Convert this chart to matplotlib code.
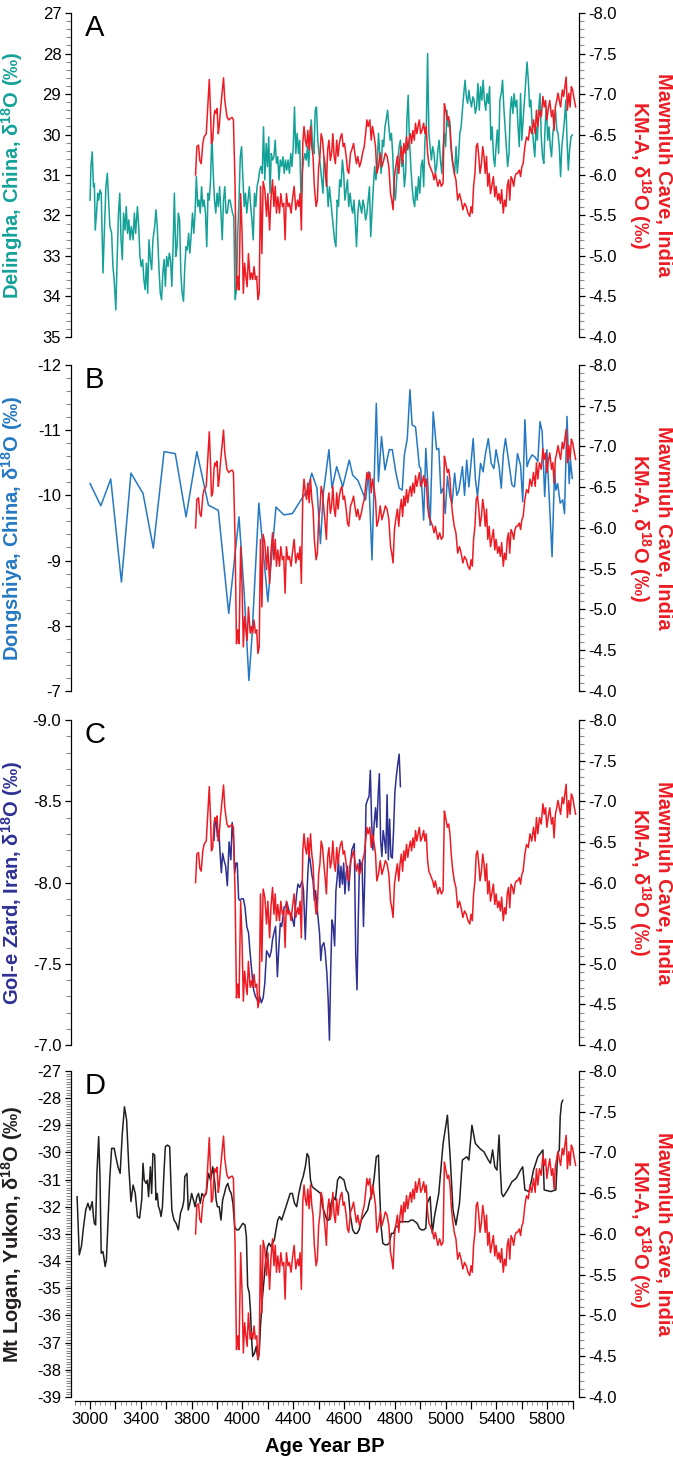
import numpy as np
import matplotlib
matplotlib.use("Agg")
import matplotlib.pyplot as plt
from matplotlib.ticker import MultipleLocator, FixedLocator, FixedFormatter, FormatStrFormatter

plt.rcParams['font.family'] = ['Liberation Sans', 'DejaVu Sans']
plt.rcParams['axes.unicode_minus'] = False
plt.rcParams['mathtext.fontset'] = 'custom'
plt.rcParams['mathtext.rm'] = 'Liberation Sans'
plt.rcParams['mathtext.bf'] = 'Liberation Sans:bold'

# ---------------- data (age axis in years, labels as printed on the figure) ----------------
age_tick_labels = ['3000', '3400', '3800', '4000', '4400', '4600', '4800', '5000', '5400', '5800']

# Mawmluh Cave KM-A (same record in all panels)
mawmluh_age = [3831, 3841, 3854, 3864, 3875, 3888, 3898, 3915, 3932, 3939, 3949, 3956, 3966, 3976, 3983,
               3993, 4000, 4010, 4017, 4027, 4037, 4051, 4061, 4078, 4092, 4105, 4119, 4129, 4142, 4153,
               4163, 4173, 4186, 4197, 4207, 4217, 4227, 4237, 4247, 4261, 4271, 4281, 4291, 4302, 4312,
               4322, 4332, 4342, 4353, 4363, 4376, 4390, 4400, 4414, 4424, 4437, 4448, 4458, 4468, 4478,
               4492, 4502, 4515, 4525, 4536, 4546, 4559, 4570, 4583, 4593, 4607, 4620, 4634, 4644, 4654,
               4664, 4675, 4685, 4695, 4705, 4715, 4725, 4736, 4746, 4756, 4766, 4780, 4790, 4800, 4810,
               4820, 4831, 4841, 4851, 4861, 4871, 4881, 4892, 4902, 4912, 4922, 4932, 4942, 4953, 4963,
               4973, 4983, 4993, 5003, 5017, 5027, 5037, 5051, 5061, 5075, 5085, 5098, 5108, 5122, 5136,
               5146, 5159, 5170, 5180, 5190, 5203, 5214, 5224, 5234, 5248, 5258, 5271, 5285, 5298, 5312,
               5325, 5339, 5353, 5366, 5376, 5386, 5397, 5407, 5420, 5431, 5441, 5451, 5461, 5471, 5481,
               5492, 5502, 5512, 5522, 5532, 5542, 5553, 5563, 5573, 5583, 5593, 5603, 5614, 5627, 5637,
               5647, 5658, 5668, 5678, 5688, 5698, 5709, 5719, 5729, 5739, 5753, 5766, 5780, 5790, 5800,
               5814, 5824, 5834, 5844, 5854, 5868, 5881, 5895, 5909, 5922, 5936, 5949, 5963, 5976, 5990,
               6000, 6010, 6020, 6031, 6041, 6051, 6061, 6071, 6082, 6092, 6102, 6112, 6122, 6132, 6143,
               6153, 6163, 6176, 6187, 6197, 6210, 6220, 6231, 6241, 6254, 6264, 6275, 6285, 6295, 6305,
               6315, 6326, 6336, 6346, 6356, 6366, 6380, 6390, 6400, 6410, 6424, 6437, 6451, 6464, 6478,
               6492, 6505, 6515, 6526, 6539, 6553, 6566, 6576, 6587, 6597, 6607, 6620, 6634, 6644, 6654,
               6664, 6675, 6685, 6695, 6705, 6719, 6729, 6739, 6749, 6759, 6770, 6780, 6790, 6800, 6814,
               6824]
mawmluh_d18o = [-6.00, -6.35, -6.37, -6.18, -6.14, -6.39, -6.47, -6.51, -6.97, -7.18, -6.76, -6.39, -6.43, -6.72, -6.80,
                -6.76, -6.82, -6.51, -6.60, -6.80, -6.97, -7.20, -6.92, -6.72, -6.68, -6.70, -6.71, -6.68, -5.86, -4.58,
                -4.75, -4.58, -5.77, -5.28, -4.54, -4.91, -4.75, -4.62, -5.03, -4.71, -4.79, -4.71, -4.87, -4.71, -4.75,
                -4.46, -4.54, -5.86, -5.03, -5.92, -5.82, -5.49, -5.77, -5.32, -5.69, -5.94, -5.61, -5.86, -5.53, -5.73,
                -5.53, -5.77, -5.61, -5.65, -5.20, -5.77, -5.61, -5.65, -5.53, -5.69, -5.86, -5.57, -5.69, -5.61, -5.77,
                -5.32, -6.39, -6.60, -6.43, -6.35, -6.55, -6.31, -6.60, -6.35, -6.23, -5.86, -5.61, -5.69, -6.10, -6.23,
                -6.51, -6.43, -6.23, -6.06, -5.86, -6.31, -6.43, -6.18, -6.27, -6.51, -6.23, -6.14, -6.43, -6.23, -6.39,
                -6.47, -6.51, -6.35, -6.39, -6.23, -6.06, -6.02, -6.27, -6.31, -6.39, -6.27, -6.14, -6.23, -6.10, -6.18,
                -6.27, -6.35, -6.51, -6.68, -6.60, -6.68, -6.43, -6.60, -6.51, -6.35, -6.02, -6.10, -6.27, -6.10, -6.18,
                -6.27, -6.23, -6.10, -5.77, -5.69, -5.57, -5.98, -6.10, -6.23, -6.02, -6.23, -6.35, -6.14, -6.39, -6.27,
                -6.47, -6.31, -6.43, -6.51, -6.39, -6.55, -6.43, -6.64, -6.51, -6.60, -6.68, -6.51, -6.55, -6.64, -6.51,
                -6.60, -6.27, -6.14, -6.10, -6.06, -6.02, -5.94, -6.02, -5.94, -5.86, -5.94, -5.86, -5.90, -6.88, -6.80,
                -6.68, -6.72, -6.60, -6.35, -6.18, -6.02, -5.94, -5.69, -5.77, -5.69, -5.57, -5.65, -5.61, -5.53, -5.49,
                -5.61, -5.53, -5.86, -6.02, -6.35, -6.39, -6.23, -6.02, -6.14, -6.35, -6.23, -6.02, -6.23, -5.86, -6.02,
                -5.77, -5.86, -5.98, -5.73, -5.86, -5.69, -5.77, -5.65, -5.82, -5.53, -5.69, -5.61, -5.86, -5.94, -5.69,
                -5.98, -5.94, -5.86, -5.98, -6.02, -6.02, -6.06, -5.98, -6.10, -6.14, -6.35, -6.47, -6.43, -6.60, -6.51,
                -6.68, -6.51, -6.80, -6.60, -6.80, -6.72, -6.97, -6.84, -6.92, -6.68, -6.80, -6.92, -6.72, -6.80, -6.55,
                -6.84, -6.92, -7.01, -6.92, -6.84, -7.05, -6.97, -7.09, -7.21, -6.80, -7.01, -6.84, -7.09, -7.05, -6.92,
                -6.84]

# Delingha, China
delingha_age = [3000, 3007, 3017, 3027, 3034, 3041, 3051, 3061, 3068, 3078, 3088, 3102, 3112, 3125, 3136,
                3146, 3156, 3170, 3180, 3190, 3203, 3214, 3224, 3234, 3244, 3254, 3264, 3275, 3285, 3295,
                3305, 3315, 3325, 3339, 3349, 3359, 3373, 3383, 3393, 3403, 3414, 3424, 3434, 3444, 3454,
                3464, 3475, 3485, 3495, 3509, 3519, 3529, 3542, 3553, 3563, 3573, 3583, 3593, 3603, 3614,
                3624, 3634, 3644, 3654, 3664, 3675, 3685, 3695, 3705, 3715, 3725, 3736, 3746, 3756, 3766,
                3776, 3786, 3797, 3807, 3817, 3827, 3837, 3848, 3858, 3868, 3878, 3888, 3898, 3909, 3919,
                3929, 3939, 3949, 3959, 3970, 3980, 3990, 4000, 4010, 4020, 4031, 4041, 4051, 4061, 4071,
                4081, 4092, 4102, 4112, 4122, 4132, 4142, 4153, 4163, 4173, 4183, 4193, 4204, 4214, 4224,
                4234, 4244, 4254, 4265, 4275, 4285, 4295, 4305, 4315, 4326, 4336, 4346, 4356, 4366, 4376,
                4387, 4397, 4407, 4417, 4427, 4437, 4448, 4458, 4468, 4478, 4488, 4498, 4509, 4519, 4529,
                4539, 4549, 4559, 4570, 4580, 4590, 4600, 4610, 4620, 4631, 4641, 4651, 4661, 4671, 4681,
                4692, 4702, 4712, 4722, 4732, 4742, 4753, 4763, 4773, 4783, 4793, 4803, 4814, 4824, 4834,
                4844, 4854, 4864, 4875, 4885, 4895, 4905, 4915, 4925, 4936, 4946, 4956, 4966, 4976, 4987,
                4997, 5007, 5017, 5027, 5037, 5048, 5058, 5068, 5078, 5088, 5098, 5109, 5119, 5129, 5139,
                5149, 5159, 5170, 5180, 5190, 5200, 5210, 5220, 5231, 5241, 5251, 5261, 5271, 5281, 5292,
                5302, 5312, 5322, 5332, 5343, 5353, 5363, 5373, 5383, 5393, 5404, 5414, 5424, 5434, 5444,
                5454, 5465, 5475, 5485, 5495, 5505, 5515, 5526, 5536, 5546, 5556, 5566, 5576, 5587, 5597,
                5607, 5617, 5627, 5637, 5648, 5658, 5668, 5678, 5688, 5698, 5709, 5719, 5729, 5739, 5749,
                5759, 5770, 5780, 5790, 5800, 5810, 5820, 5831, 5841, 5851, 5861, 5871, 5882, 5892, 5902,
                5912, 5922, 5932, 5943, 5953, 5963, 5973, 5983, 5993, 6004, 6014, 6024, 6034, 6044, 6054,
                6065, 6075, 6085, 6095, 6105, 6116, 6126, 6136, 6146, 6156, 6166, 6177, 6187, 6197, 6207,
                6217, 6227, 6238, 6248, 6258, 6268, 6278, 6288, 6299, 6309, 6319, 6329, 6339, 6349, 6360,
                6370, 6380, 6390, 6400, 6410, 6421, 6431, 6441, 6451, 6461, 6471, 6482, 6492, 6502, 6512,
                6522, 6532, 6543, 6553, 6563, 6573, 6583, 6593, 6604, 6614, 6624, 6634, 6644, 6654, 6665,
                6675, 6685, 6695, 6705, 6715, 6726, 6736, 6746, 6756, 6766, 6776, 6787, 6797]
delingha_d18o = [31.62, 30.79, 30.43, 31.29, 31.21, 32.36, 31.94, 31.45, 31.62, 31.37, 31.45, 33.42, 32.44, 31.29, 30.96,
                 31.62, 32.27, 32.44, 33.26, 33.59, 34.33, 33.01, 31.94, 31.45, 32.60, 33.09, 31.94, 32.36, 31.78, 32.44,
                 32.11, 32.60, 32.27, 32.60, 31.94, 32.44, 31.78, 32.27, 33.01, 33.26, 33.09, 33.59, 33.83, 33.18, 33.92,
                 32.60, 33.09, 33.34, 32.60, 32.27, 31.86, 32.27, 33.26, 33.92, 34.08, 33.42, 33.09, 33.75, 33.01, 33.26,
                 32.93, 33.09, 33.75, 32.77, 31.45, 33.01, 32.77, 31.94, 32.11, 33.42, 33.92, 34.12, 33.26, 32.77, 32.85,
                 32.44, 32.93, 32.44, 31.94, 32.44, 31.94, 31.04, 31.78, 31.62, 31.94, 31.29, 31.78, 31.62, 31.94, 32.77,
                 31.45, 31.62, 31.12, 29.97, 30.96, 31.62, 31.94, 31.45, 31.78, 31.29, 31.94, 32.60, 31.62, 31.29, 31.94,
                 31.94, 31.62, 31.62, 31.78, 31.94, 32.03, 34.08, 33.83, 32.44, 31.62, 30.55, 30.30, 31.12, 31.78, 31.45,
                 31.94, 31.62, 31.29, 31.78, 32.11, 32.60, 31.45, 31.78, 31.29, 31.12, 30.88, 30.79, 30.96, 29.81, 31.12,
                 30.22, 30.79, 30.06, 31.45, 30.47, 30.63, 30.55, 30.14, 30.71, 30.55, 31.12, 30.63, 30.79, 30.55, 30.96,
                 30.63, 30.88, 30.63, 30.96, 30.47, 30.79, 30.30, 29.32, 30.47, 29.97, 30.47, 30.14, 31.62, 30.96, 30.63,
                 30.47, 30.63, 30.30, 30.79, 30.14, 29.64, 30.30, 30.47, 29.40, 29.32, 30.14, 30.47, 30.79, 31.12, 31.45,
                 30.55, 30.79, 31.12, 31.78, 31.29, 31.62, 31.94, 32.27, 32.60, 32.77, 31.62, 31.78, 31.12, 31.29, 30.63,
                 30.96, 31.62, 31.37, 31.12, 31.78, 31.45, 31.78, 31.94, 31.62, 32.11, 32.77, 31.94, 31.62, 31.78, 31.94,
                 31.62, 31.78, 32.11, 31.94, 31.62, 31.29, 32.52, 31.94, 31.29, 30.79, 31.12, 30.79, 29.97, 30.47, 30.96,
                 30.14, 30.30, 29.81, 29.64, 29.40, 29.81, 30.14, 29.97, 30.47, 31.29, 31.62, 31.12, 30.63, 30.30, 30.14,
                 30.79, 30.63, 31.29, 30.96, 29.64, 29.03, 30.14, 30.79, 31.29, 31.62, 31.78, 31.29, 31.62, 31.04, 31.45,
                 30.79, 30.63, 31.29, 30.14, 29.81, 28.00, 29.97, 30.30, 30.63, 30.30, 30.47, 30.96, 30.79, 30.38, 30.14,
                 30.63, 30.96, 30.30, 29.97, 30.30, 29.40, 29.81, 29.64, 30.30, 30.63, 30.79, 30.96, 30.30, 30.96, 30.55,
                 29.97, 29.81, 29.40, 28.99, 28.66, 29.07, 29.23, 28.91, 29.15, 29.32, 29.07, 29.15, 29.48, 29.32, 28.74,
                 29.40, 28.82, 29.15, 28.66, 29.15, 29.40, 28.99, 29.23, 28.82, 30.14, 29.81, 30.55, 30.79, 30.30, 29.89,
                 30.47, 29.15, 28.99, 28.66, 29.32, 29.81, 30.30, 30.79, 30.47, 29.40, 29.07, 29.48, 28.99, 29.32, 29.15,
                 29.81, 30.30, 28.99, 30.14, 29.64, 29.15, 28.66, 28.21, 28.66, 29.32, 29.15, 29.81, 30.22, 30.55, 29.81,
                 30.14, 29.40, 28.99, 30.06, 30.55, 30.71, 29.81, 29.32, 30.14, 29.81, 30.30, 30.55, 29.97, 29.73, 29.40,
                 29.89, 29.97, 30.30, 31.04, 30.30, 29.97, 29.64, 29.15, 30.14, 30.88, 30.38, 30.06, 30.01]

# Dongshiya, China
dongshiya_age = [3000, 3085, 3163, 3247, 3322, 3417, 3498, 3583, 3671, 3756, 3841, 3932, 4010, 4092, 4173,
                 4214, 4251, 4275, 4329, 4400, 4464, 4526, 4593, 4661, 4712, 4746, 4787, 4814, 4837, 4881,
                 4905, 4942, 4990, 5041, 5068, 5109, 5170, 5193, 5220, 5254, 5271, 5295, 5322, 5356, 5380,
                 5407, 5434, 5458, 5475, 5498, 5519, 5536, 5563, 5593, 5604, 5627, 5644, 5678, 5702, 5729,
                 5746, 5763, 5780, 5797, 5814, 5834, 5851, 5871, 5888, 5905, 5932, 5949, 5966, 5983, 6017,
                 6034, 6051, 6075, 6095, 6112, 6136, 6159, 6180, 6197, 6221, 6238, 6254, 6271, 6288, 6322,
                 6342, 6366, 6390, 6407, 6424, 6441, 6458, 6481, 6502, 6526, 6543, 6560, 6580, 6597, 6614,
                 6638, 6658, 6668, 6682, 6702, 6722, 6736, 6756, 6773, 6783, 6797]
dongshiya_d18o = [-10.18, -9.84, -10.25, -8.67, -10.34, -10.03, -9.19, -10.67, -10.64, -9.67, -10.67, -9.85, -9.77, -8.19, -9.67,
                  -8.49, -7.16, -7.83, -9.88, -8.37, -9.82, -9.70, -9.72, -9.93, -10.08, -10.34, -10.11, -9.26, -10.03, -10.70,
                  -10.11, -10.44, -10.13, -10.54, -10.31, -10.23, -9.93, -10.36, -9.01, -11.41, -10.21, -10.90, -10.39, -10.70, -10.70,
                  -10.36, -10.11, -10.08, -10.62, -10.87, -11.62, -11.08, -11.05, -10.44, -10.41, -9.62, -10.72, -9.54, -11.28, -10.70,
                  -10.72, -10.03, -10.11, -9.72, -10.29, -9.98, -9.88, -10.34, -10.00, -10.08, -10.44, -10.00, -10.54, -10.13, -10.87,
                  -10.26, -9.98, -10.49, -10.36, -10.62, -10.87, -10.49, -10.41, -10.70, -10.44, -10.11, -10.62, -10.87, -10.64, -10.16,
                  -10.13, -10.64, -10.46, -9.90, -11.16, -10.44, -10.54, -10.62, -10.59, -10.52, -11.13, -10.98, -9.98, -10.70, -10.03,
                  -9.06, -10.39, -10.08, -10.18, -9.88, -9.93, -9.72, -11.21, -10.18, -10.54, -10.26]

# Gol-e Zard, Iran
golezard_age = [3976, 3983, 3993, 4003, 4014, 4024, 4034, 4044, 4054, 4068, 4081, 4095, 4109, 4119, 4129,
                4139, 4149, 4159, 4170, 4180, 4193, 4207, 4220, 4234, 4248, 4261, 4275, 4288, 4302, 4315,
                4325, 4336, 4349, 4363, 4376, 4390, 4403, 4414, 4427, 4437, 4448, 4461, 4475, 4485, 4498,
                4509, 4519, 4529, 4539, 4549, 4559, 4570, 4580, 4593, 4607, 4617, 4627, 4637, 4651, 4661,
                4671, 4681, 4695, 4705, 4715, 4725, 4736, 4746, 4756, 4766, 4776, 4787, 4797, 4807, 4817,
                4827, 4841, 4851, 4865, 4875, 4885, 4895, 4905, 4915, 4926, 4936, 4946, 4956, 4966, 4976,
                4987, 4997, 5007, 5017, 5027, 5037, 5048, 5061, 5071, 5081, 5092, 5102, 5112, 5122, 5132,
                5142, 5153, 5163, 5173, 5186, 5197, 5207, 5217, 5227, 5237, 5248, 5258, 5268, 5278, 5288,
                5298, 5308, 5319, 5329, 5339, 5349, 5359, 5369, 5380, 5390, 5400, 5410, 5420, 5434, 5444]
golezard_d18o = [-8.26, -8.36, -8.38, -8.28, -8.32, -8.18, -8.06, -8.18, -8.14, -8.10, -7.98, -8.25, -8.14, -8.37, -8.28,
                 -8.06, -8.12, -8.12, -7.90, -7.89, -7.90, -7.90, -7.85, -7.73, -7.69, -7.56, -7.44, -7.34, -7.30, -7.28,
                 -7.26, -7.30, -7.26, -7.29, -7.38, -7.58, -7.56, -7.54, -7.58, -7.65, -7.69, -7.73, -7.42, -7.58, -7.75,
                 -7.73, -7.79, -7.85, -7.85, -7.88, -7.85, -7.81, -7.81, -7.78, -7.73, -7.85, -7.93, -7.99, -7.97, -7.99,
                 -8.01, -7.95, -7.65, -7.87, -8.06, -8.18, -8.12, -8.05, -8.01, -7.89, -7.95, -7.85, -7.77, -7.69, -7.52,
                 -7.61, -7.63, -7.58, -7.44, -7.28, -7.03, -7.46, -7.77, -7.73, -7.61, -7.95, -8.03, -8.14, -7.97, -8.10,
                 -7.99, -8.12, -7.93, -8.06, -8.10, -7.95, -8.08, -8.20, -8.22, -8.24, -7.56, -7.34, -7.77, -8.14, -8.08,
                 -8.12, -7.73, -8.03, -8.48, -8.51, -8.53, -8.69, -8.38, -8.20, -8.36, -8.46, -8.34, -8.53, -8.67, -8.26,
                 -8.16, -8.32, -8.26, -8.18, -8.54, -8.14, -8.39, -8.16, -8.15, -8.32, -8.55, -8.64, -8.71, -8.79, -8.59]

# Mt Logan, Yukon
logan_age = [2898, 2915, 2932, 2949, 2966, 2983, 3000, 3017, 3027, 3034, 3044, 3054, 3068, 3078, 3088,
             3102, 3119, 3129, 3142, 3156, 3170, 3190, 3203, 3220, 3237, 3254, 3271, 3288, 3305, 3322,
             3339, 3356, 3373, 3390, 3407, 3417, 3427, 3441, 3451, 3461, 3475, 3485, 3495, 3509, 3519,
             3529, 3539, 3549, 3559, 3570, 3583, 3593, 3610, 3627, 3644, 3661, 3678, 3695, 3712, 3729,
             3739, 3746, 3763, 3773, 3786, 3800, 3814, 3827, 3841, 3854, 3868, 3881, 3898, 3915, 3932,
             3949, 3966, 3983, 3993, 4003, 4017, 4031, 4044, 4058, 4071, 4085, 4098, 4112, 4125, 4139,
             4153, 4170, 4187, 4203, 4220, 4231, 4241, 4254, 4264, 4271, 4281, 4295, 4309, 4322, 4332,
             4342, 4356, 4370, 4383, 4397, 4410, 4424, 4437, 4451, 4464, 4478, 4492, 4509, 4526, 4542,
             4559, 4576, 4593, 4610, 4627, 4644, 4661, 4678, 4695, 4709, 4722, 4736, 4749, 4763, 4780,
             4797, 4814, 4831, 4848, 4865, 4881, 4898, 4915, 4932, 4949, 4966, 4983, 5000, 5017, 5034,
             5051, 5068, 5085, 5102, 5119, 5136, 5153, 5170, 5186, 5203, 5220, 5237, 5254, 5271, 5281,
             5292, 5305, 5322, 5339, 5356, 5373, 5390, 5407, 5424, 5441, 5458, 5475, 5492, 5509, 5526,
             5543, 5560, 5576, 5593, 5610, 5627, 5644, 5654, 5678, 5695, 5712, 5746, 5780, 5814, 5837,
             5858, 5881, 5909, 5932, 5966, 5983, 6007, 6034, 6068, 6102, 6136, 6153, 6170, 6187, 6204,
             6221, 6231, 6241, 6254, 6288, 6322, 6356, 6390, 6407, 6424, 6458, 6492, 6526, 6566, 6576,
             6627, 6668, 6682, 6695, 6702, 6712, 6722]
logan_d18o = [-31.63, -33.77, -33.46, -32.73, -32.12, -31.87, -32.12, -31.81, -32.36, -32.61, -32.67, -30.77, -29.42, -30.89, -33.71,
              -33.65, -34.20, -33.95, -32.49, -30.89, -29.85, -29.85, -30.16, -30.53, -30.77, -29.30, -28.32, -28.81, -30.53, -31.81,
              -31.20, -31.51, -32.36, -32.42, -31.75, -30.40, -31.02, -31.14, -31.02, -31.63, -30.53, -31.51, -30.04, -30.10, -31.75,
              -31.51, -32.00, -32.12, -32.36, -32.00, -30.65, -29.79, -29.73, -29.79, -32.12, -32.49, -32.61, -32.85, -32.24, -32.00,
              -31.75, -30.89, -30.77, -32.12, -31.87, -31.51, -31.75, -32.00, -31.63, -31.51, -31.87, -31.51, -31.63, -31.51, -30.77,
              -31.02, -30.53, -31.14, -31.75, -32.00, -32.00, -32.49, -31.75, -31.51, -31.26, -31.14, -31.38, -31.51, -31.87, -32.73,
              -32.85, -32.85, -32.73, -32.61, -32.67, -33.10, -34.93, -35.18, -35.91, -36.77, -37.51, -37.38, -37.14, -37.63, -37.38,
              -36.40, -35.42, -34.69, -33.95, -33.47, -33.34, -33.47, -33.34, -33.22, -32.85, -32.49, -32.36, -32.49, -32.24, -32.00,
              -31.75, -31.51, -31.51, -31.87, -32.00, -31.51, -31.14, -30.89, -30.53, -30.04, -30.16, -31.02, -31.26, -31.32, -31.38,
              -31.44, -31.51, -32.00, -32.24, -32.49, -32.49, -31.87, -31.63, -31.75, -31.02, -30.89, -30.95, -31.02, -31.38, -31.51,
              -32.36, -32.85, -32.98, -32.98, -32.85, -32.49, -32.36, -32.24, -32.12, -31.75, -31.51, -30.95, -30.16, -30.10, -31.51,
              -32.73, -33.34, -33.40, -33.40, -33.34, -32.98, -32.98, -32.73, -32.73, -32.55, -32.55, -32.55, -32.55, -32.55, -32.49,
              -32.49, -32.55, -32.61, -32.79, -32.85, -32.85, -32.79, -31.88, -31.63, -32.98, -32.36, -31.51, -29.67, -28.63, -30.28,
              -32.12, -32.67, -31.87, -30.28, -30.16, -30.28, -29.00, -29.67, -29.85, -29.98, -30.28, -30.40, -29.91, -30.53, -30.65,
              -29.36, -30.65, -31.51, -31.63, -31.38, -31.08, -30.95, -30.65, -30.53, -31.38, -31.44, -30.65, -30.16, -29.91, -31.38,
              -31.44, -31.38, -30.04, -29.91, -28.69, -28.20, -28.08]

# ---------------- figure ----------------
red = '#ed1c24'
panels = [
    # letter, age, values, color, label, ylim (bottom, top), major, minor, fmt, axes rect
    ('A', delingha_age, delingha_d18o, '#13a198', 'Delingha, China, ', (35, 27), 1, 0.2, '%d',
     [0.1055, 0.7695, 0.7548, 0.2216]),
    ('B', dongshiya_age, dongshiya_d18o, '#2479c2', 'Dongshiya, China, ', (-7, -12), 1, 0.2, '%d',
     [0.1055, 0.5274, 0.7548, 0.2230]),
    ('C', golezard_age, golezard_d18o, '#2e3192', 'Gol-e Zard, Iran, ', (-7.0, -9.0), 0.5, 0.1, '%.1f',
     [0.1055, 0.2852, 0.7548, 0.2223]),
    ('D', logan_age, logan_d18o, '#231f20', 'Mt Logan, Yukon, ', (-39, -27), 1, 0.1, '%d',
     [0.1055, 0.0445, 0.7548, 0.2230]),
]

d18o_tail = r'δ$^{\mathbf{18}}$O (‰)'

fig = plt.figure(figsize=(6.73, 14.62), dpi=100)

for i, (letter, age, vals, color, label, ylim, major, minor, fmt, rect) in enumerate(panels):
    ax = fig.add_axes(rect)
    tw = ax.twinx()

    ax.plot(age, vals, color=color, lw=1.1)
    tw.plot(mawmluh_age, mawmluh_d18o, color=red, lw=1.1)

    ax.set_xlim(2850, 6850)
    ax.set_ylim(*ylim)
    tw.set_ylim(-4.0, -8.0)

    for s in ['top', 'bottom', 'right']:
        ax.spines[s].set_visible(False)
    for s in ['top', 'bottom', 'left']:
        tw.spines[s].set_visible(False)
    ax.spines['left'].set_linewidth(0.9)
    tw.spines['right'].set_linewidth(0.9)

    ax.yaxis.set_major_locator(MultipleLocator(major))
    ax.yaxis.set_minor_locator(MultipleLocator(minor))
    ax.yaxis.set_major_formatter(FormatStrFormatter(fmt))
    tw.yaxis.set_major_locator(MultipleLocator(0.5))
    tw.yaxis.set_minor_locator(MultipleLocator(0.1))
    tw.yaxis.set_major_formatter(FormatStrFormatter('%.1f'))

    for a in (ax, tw):
        a.tick_params(axis='y', which='major', direction='out', length=4, width=0.9,
                      labelsize=12, pad=3, color='black')
        a.tick_params(axis='y', which='minor', direction='out', length=3.5, width=0.8,
                      color='#8c8c8c')
    ax.tick_params(axis='x', which='both', bottom=False, labelbottom=False)
    tw.tick_params(axis='x', which='both', bottom=False, labelbottom=False)

    ax.text(0.027, 0.929, letter, transform=ax.transAxes, fontsize=21, ha='left', va='baseline')

    yc = rect[1] + rect[3] / 2
    fig.text(12.5 / 673, yc, label + d18o_tail, rotation=90, ha='center', va='center',
             fontsize=14.5, fontweight='bold', color=color)
    fig.text(650 / 673, yc, 'Mawmluh Cave, India\nKM-A, ' + d18o_tail, rotation=270,
             ha='center', va='center', multialignment='center', linespacing=1.05,
             fontsize=14.5, fontweight='bold', color=red)

    if letter == 'D':
        ax.spines['bottom'].set_visible(True)
        ax.spines['bottom'].set_linewidth(0.9)
        ax.spines['bottom'].set_position(('outward', 3))
        ax.spines['bottom'].set_bounds(2880, 6800)
        major_pos = np.arange(3000, 6801, 200)
        major_lab = []
        for k in range(len(major_pos)):
            major_lab.append(age_tick_labels[k // 2] if k % 2 == 0 else '')
        ax.xaxis.set_major_locator(FixedLocator(major_pos))
        ax.xaxis.set_major_formatter(FixedFormatter(major_lab))
        ax.xaxis.set_minor_locator(FixedLocator(np.arange(2880, 6801, 40)))
        ax.tick_params(axis='x', which='major', bottom=True, labelbottom=True, direction='out',
                       length=6, width=0.9, labelsize=12, pad=2)
        ax.tick_params(axis='x', which='minor', bottom=True, direction='out', length=3,
                       width=0.7, color='#8c8c8c')

fig.text(325 / 673, 1 - 1447 / 1462, 'Age Year BP', ha='center', va='center',
         fontsize=14.5, fontweight='bold')

fig.savefig('out.png', dpi=100)
